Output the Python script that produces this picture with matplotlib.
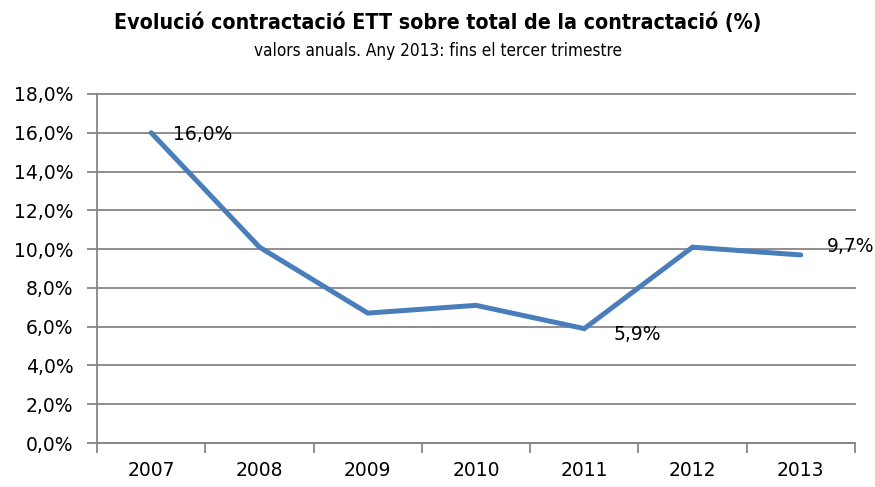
import matplotlib
matplotlib.use("Agg")
import matplotlib.pyplot as plt
from matplotlib.ticker import FuncFormatter, MultipleLocator

anys = ["2007", "2008", "2009", "2010", "2011", "2012", "2013"]
ett_pct = [16.0, 10.1, 6.7, 7.1, 5.9, 10.1, 9.7]

# etiquetes de dades: (índex, desplaçament en punts)
etiquetes = [(0, (16, -1.5)), (4, (21, -4)), (6, (19, 6))]

gris = "#868686"

fig = plt.figure(figsize=(8.75, 4.87), dpi=100)
ax = fig.add_axes([0.111, 0.0903, 0.866, 0.7167])

x = list(range(len(anys)))
ax.plot(x, ett_pct, color="#4a7ebb", linewidth=3.6, solid_joinstyle="miter",
        solid_capstyle="round", zorder=3)

for i, (dx, dy) in etiquetes:
    v = ett_pct[i]
    ax.annotate(f"{v:.1f}%".replace(".", ","), (x[i], v), xytext=(dx, dy),
                textcoords="offset points", ha="left", va="center",
                fontsize=13.5, color="black")

ax.set_xlim(-0.5, len(anys) - 0.5)
ax.set_ylim(0, 18)
ax.yaxis.set_major_locator(MultipleLocator(2))
ax.yaxis.set_major_formatter(FuncFormatter(lambda v, p: f"{v:.1f}%".replace(".", ",")))
ax.grid(axis="y", color=gris, linewidth=1.3)
ax.set_axisbelow(True)
for g in ax.get_ygridlines():
    g.set_clip_on(False)

# marques de l'eix x entre categories
ax.set_xticks([i - 0.5 for i in range(len(anys) + 1)])
ax.set_xticklabels([])
ax.set_xticks(x, minor=True)
ax.set_xticklabels(anys, minor=True, fontsize=13.5)
ax.tick_params(axis="x", which="minor", length=0, pad=13)
ax.tick_params(axis="x", which="major", length=7, color=gris, width=1.3)
ax.tick_params(axis="y", length=7, color=gris, width=1.3, labelsize=13.5, pad=10)

for s in ["top", "right"]:
    ax.spines[s].set_visible(False)
for s in ["left", "bottom"]:
    ax.spines[s].set_color(gris)
    ax.spines[s].set_linewidth(1.3)

fig.text(0.5, 0.953, "Evolució contractació ETT sobre total de la contractació (%)",
         ha="center", va="center", fontsize=15.3, fontweight="bold",
         fontstretch="condensed")
fig.text(0.5, 0.896, "valors anuals. Any 2013: fins el tercer trimestre",
         ha="center", va="center", fontsize=12.3, fontstretch="condensed")

fig.savefig("out.png", dpi=100)
